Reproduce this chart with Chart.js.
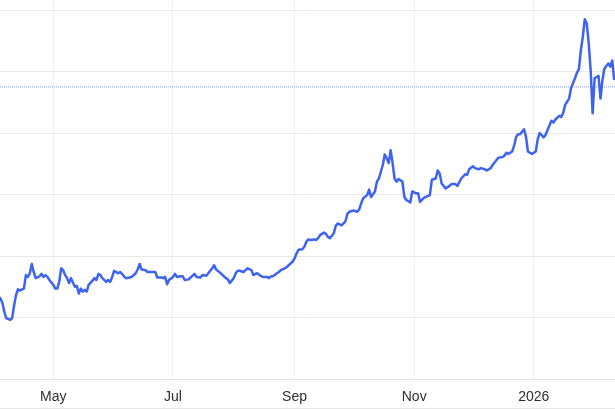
<!DOCTYPE html>
<html>
<head>
<meta charset="utf-8">
<script src="https://cdn.jsdelivr.net/npm/chart.js@4.4.1/dist/chart.umd.min.js"></script>
<style>
  html, body { margin: 0; padding: 0; background: #fff; }
  #wrap { position: relative; width: 615px; height: 410px; }
  #edge { position: absolute; left: 0; top: 408px; width: 615px; height: 1px; background: #e8e8e8; }
</style>
</head>
<body>
<div id="wrap">
  <canvas id="chart" width="615" height="410"></canvas>
  <div id="edge"></div>
</div>
<script>
// days counted from 2025-01-01 (day 0)
var days = [
  92, 93, 94, 95, 96, 98, 99, 100, 101, 102, 103, 105, 106, 107, 108, 109, 110, 111, 113, 114,
  115, 116, 117, 118, 120, 121, 122, 123, 124, 125, 126, 127, 128, 129, 131, 132, 133, 134, 135, 136,
  137, 138, 140, 141, 142, 143, 144, 145, 147, 148, 149, 150, 151, 153, 154, 155, 156, 157, 159, 160,
  162, 163, 164, 165, 167, 168, 170, 172, 173, 175, 176, 177, 178, 179, 181, 182, 183, 185, 186, 187,
  189, 190, 192, 193, 195, 196, 198, 199, 201, 202, 203, 205, 207, 208, 209, 210, 212, 213, 214, 215,
  217, 218, 219, 221, 222, 223, 224, 226, 227, 229, 230, 231, 232, 234, 235, 236, 238, 239, 240, 242,
  243, 244, 245, 247, 248, 249, 250, 251, 253, 254, 255, 256, 258, 259, 260, 261, 263, 264, 265, 267,
  268, 269, 270, 271, 273, 275, 276, 277, 278, 280, 281, 282, 284, 285, 286, 287, 288, 289, 290, 291,
  292, 293, 294, 295, 296, 298, 299, 300, 302, 303, 305, 306, 307, 309, 310, 312, 313, 315, 316, 317,
  318, 320, 322, 323, 325, 326, 328, 330, 331, 332, 334, 335, 337, 338, 340, 341, 343, 344, 346, 347,
  349, 350, 351, 352, 354, 355, 356, 357, 358, 360, 361, 362, 363, 364, 366, 367, 368, 370, 371, 372,
  374, 375, 376, 378, 379, 380, 381, 383, 384, 386, 387, 388, 389, 390, 391, 392, 393, 394, 395, 396,
  398, 399, 400, 401, 403, 404, 405, 406
];
var prices = [
  43.5, 43.1, 42.4, 40.9, 39.9, 39.6, 39.9, 42.0, 43.7, 44.6, 44.4, 44.7, 46.9, 46.6, 47.2, 48.7, 47.4, 46.4, 46.7, 47.1,
  46.6, 46.9, 46.6, 46.1, 45.3, 44.7, 44.7, 45.8, 48.0, 47.7, 46.9, 46.4, 45.6, 46.4, 45.0, 45.1, 43.9, 44.7, 44.2, 44.5,
  44.2, 45.3, 46.0, 46.4, 46.1, 47.1, 46.9, 46.4, 45.8, 46.1, 45.8, 46.6, 47.6, 47.2, 47.4, 47.1, 46.7, 46.4, 46.5, 46.6,
  47.2, 47.8, 48.7, 47.8, 47.7, 47.4, 47.4, 47.4, 46.5, 46.5, 46.4, 46.6, 45.4, 46.1, 46.6, 47.1, 46.6, 46.7, 46.7, 46.1,
  46.2, 46.5, 47.1, 46.6, 46.5, 46.9, 46.8, 47.2, 48.0, 48.5, 47.8, 47.3, 46.7, 46.4, 46.2, 45.6, 46.4, 47.2, 47.6, 47.6,
  47.4, 47.7, 48.0, 47.7, 46.9, 47.1, 47.2, 46.7, 46.6, 46.6, 46.4, 46.7, 46.7, 47.2, 47.4, 47.7, 48.0, 48.2, 48.5, 49.1,
  49.6, 50.4, 51.0, 51.1, 51.5, 52.3, 52.7, 52.6, 52.7, 52.6, 52.9, 53.4, 53.8, 53.6, 53.1, 52.9, 53.7, 54.9, 55.3, 55.0,
  55.3, 55.7, 56.9, 57.2, 57.4, 57.2, 57.6, 58.6, 59.4, 59.9, 60.8, 59.6, 60.5, 62.1, 62.6, 63.7, 64.8, 66.5, 65.9, 65.1,
  67.2, 65.1, 62.6, 62.1, 62.5, 62.1, 59.6, 59.1, 58.7, 60.5, 60.2, 60.2, 58.8, 59.5, 59.6, 59.9, 62.4, 62.6, 63.9, 63.4,
  61.8, 61.0, 61.4, 61.7, 61.7, 61.4, 62.6, 63.3, 63.2, 64.1, 64.6, 64.3, 64.1, 64.3, 64.1, 63.9, 64.3, 64.8, 65.6, 66.0,
  66.1, 66.3, 66.8, 66.6, 67.0, 68.0, 69.4, 69.8, 69.8, 70.6, 69.4, 67.0, 66.8, 66.6, 67.0, 69.0, 70.0, 69.3, 69.7, 70.5,
  72.0, 71.7, 72.2, 72.8, 72.6, 73.3, 74.6, 75.6, 77.3, 78.9, 79.8, 80.4, 83.5, 85.7, 88.5, 87.8, 84.6, 80.2, 73.2, 78.9,
  79.3, 75.6, 78.6, 80.5, 81.3, 80.8, 81.8, 78.6
];

// month starts shown on the x axis
var tickDays = [120, 181, 243, 304, 365];
var tickLabels = ['May', 'Jul', 'Sep', 'Nov', '2026'];

var gridValues = [30, 40, 50, 60, 70, 80, 90];
var refLevel = 77.5;

var xMin = 92.8, xMax = 406.4;
var yMin = 30, yMax = 91.63;

var points = days.map(function (d, i) {
    return { x: d, y: prices[i] };
});

var ctx = document.getElementById('chart').getContext('2d');
var chart = new Chart(ctx, {
    type: 'line',
    data: {
        datasets: [{
            data: points,
            borderColor: '#3d63ef',
            borderWidth: 2.5,
            borderJoinStyle: 'round',
            pointRadius: 0,
            tension: 0
        }, {
            data: [{ x: xMin, y: refLevel }, { x: xMax, y: refLevel }],
            borderColor: '#7d97f4',
            borderWidth: 1,
            borderDash: [1, 1],
            pointRadius: 0
        }]
    },
    options: {
        responsive: false,
        animation: false,
        layout: { padding: 0 },
        plugins: {
            legend: { display: false },
            tooltip: { enabled: false }
        },
        scales: {
            x: {
                type: 'linear',
                min: xMin,
                max: xMax,
                afterBuildTicks: function (scale) {
                    scale.ticks = tickDays.map(function (d) { return { value: d }; });
                },
                afterFit: function (scale) { scale.height = 31; },
                grid: { color: '#edf1f3', drawTicks: false },
                border: { color: '#e2e2e2' },
                ticks: {
                    autoSkip: false,
                    maxRotation: 0,
                    padding: 10,
                    color: '#2e2e2e',
                    font: { family: 'Helvetica, Arial, "Liberation Sans", sans-serif', size: 14 },
                    callback: function (value) {
                        return tickLabels[tickDays.indexOf(value)];
                    }
                }
            },
            y: {
                position: 'right',
                min: yMin,
                max: yMax,
                afterBuildTicks: function (scale) {
                    scale.ticks = gridValues.map(function (v) { return { value: v }; });
                },
                afterFit: function (scale) { scale.width = 0; },
                grid: { color: '#e8e8e8', drawTicks: false },
                border: { display: false },
                ticks: { display: false }
            }
        }
    }
});
</script>
</body>
</html>
